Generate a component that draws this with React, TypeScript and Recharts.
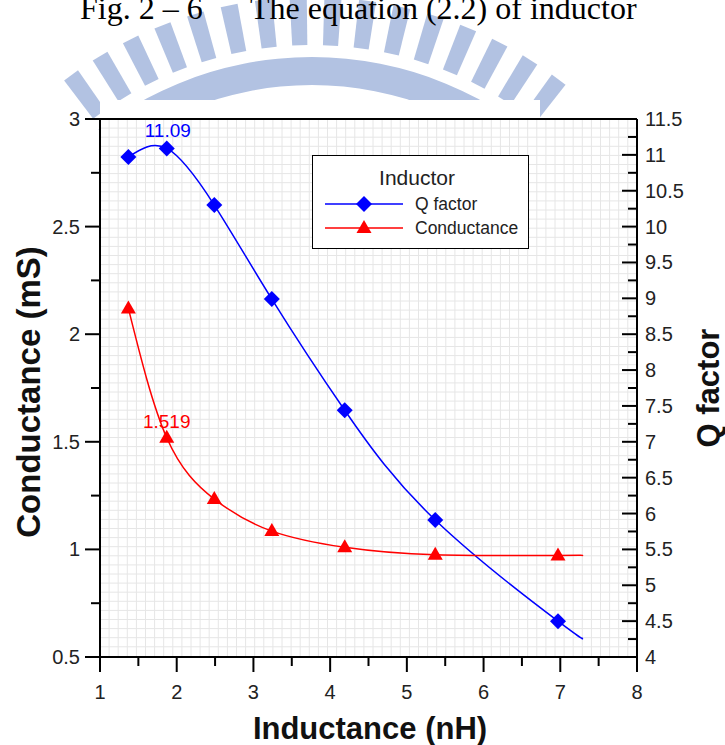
import React from "react";
import { LineChart, Line, XAxis, YAxis, CartesianGrid, Legend, ReferenceLine } from "recharts";

// measured points
const inductance = [1.37, 1.87, 2.49, 3.24, 4.19, 5.37, 6.97];
const qFactor = [10.97, 11.09, 10.3, 8.99, 7.44, 5.91, 4.5];
const conductance = [2.12, 1.519, 1.234, 1.085, 1.01, 0.975, 0.972];
// the fitted curves run a bit past the last point (no marker there)
const curveEnd = { L: 7.28, q: 4.27, g: 0.972 };

const xTicks = [1, 1.5, 2, 2.5, 3, 3.5, 4, 4.5, 5, 5.5, 6, 6.5, 7, 7.5, 8];
const leftTicks = [0.5, 0.75, 1, 1.25, 1.5, 1.75, 2, 2.25, 2.5, 2.75, 3];
const rightTicks = [4, 4.25, 4.5, 4.75, 5, 5.25, 5.5, 5.75, 6, 6.25, 6.5, 6.75, 7, 7.25, 7.5, 7.75, 8, 8.25, 8.5, 8.75, 9, 9.25, 9.5, 9.75, 10, 10.25, 10.5, 10.75, 11, 11.25, 11.5];

const data = [
  ...inductance.map((L, i) => ({ L, q: qFactor[i], g: conductance[i], marker: true })),
  { ...curveEnd, marker: false },
];

const BLUE = "#0000ff";
const RED = "#ff0000";
const FONT = "'Liberation Sans', Arial, sans-serif";
const SERIF = "'Liberation Serif', 'Times New Roman', serif";
const GRID_STEP = 9.1;
const WM = "#b2c2e2";

const isHalf = (v: number) => Math.abs(v * 2 - Math.round(v * 2)) < 1e-6;

const XTick = ({ x, y, payload }: any) => {
  const major = Number.isInteger(payload.value);
  return (
    <g>
      <line x1={x} x2={x} y1={y} y2={y + (major ? 15 : 9)} stroke="#000" strokeWidth={2} />
      {major && (
        <text x={x} y={y + 42} textAnchor="middle" fontFamily={FONT} fontSize={20} fill="#222">
          {payload.value}
        </text>
      )}
    </g>
  );
};

const LeftTick = ({ x, y, payload }: any) => {
  const major = isHalf(payload.value);
  return (
    <g>
      <line x1={x} x2={x - (major ? 15 : 9)} y1={y} y2={y} stroke="#000" strokeWidth={2} />
      {major && (
        <text x={x - 20} y={y + 7} textAnchor="end" fontFamily={FONT} fontSize={20} fill="#222">
          {payload.value}
        </text>
      )}
    </g>
  );
};

// right axis ticks point into the plot
const RightTick = ({ x, y, payload }: any) => {
  const major = isHalf(payload.value);
  return (
    <g>
      <line x1={x} x2={x - (major ? 15 : 9)} y1={y} y2={y} stroke="#000" strokeWidth={2} />
      {major && (
        <text x={x + 8} y={y + 7} textAnchor="start" fontFamily={FONT} fontSize={20} fill="#222">
          {payload.value}
        </text>
      )}
    </g>
  );
};

const Diamond = (p: any) => {
  const { cx, cy, payload, index } = p;
  if (!payload.marker) return <g key={`qd-${index}`} />;
  const s = 8;
  return (
    <path key={`qd-${index}`} d={`M${cx},${cy - s} L${cx + s},${cy} L${cx},${cy + s} L${cx - s},${cy} Z`} fill={BLUE} />
  );
};

const Triangle = (p: any) => {
  const { cx, cy, payload, index } = p;
  if (!payload.marker) return <g key={`gt-${index}`} />;
  return (
    <path key={`gt-${index}`} d={`M${cx},${cy - 8} L${cx + 7.5},${cy + 5} L${cx - 7.5},${cy + 5} Z`} fill={RED} />
  );
};

const PeakLabel = (color: string, dx: number, dy: number) => (p: any) => {
  if (p.index !== 1) return <g key={`lb-${p.index}`} />;
  return (
    <text key={`lb-${p.index}`} x={p.x + dx} y={p.y + dy} textAnchor="middle" fontFamily={FONT} fontSize={19} fill={color}>
      {p.value}
    </text>
  );
};

const LegendBox = () => (
  <div
    style={{
      width: 217,
      height: 94,
      boxSizing: "border-box",
      border: "1.5px solid #000",
      background: "#fff",
      fontFamily: FONT,
    }}
  >
    <svg width={214} height={91} style={{ display: "block" }}>
      <text x={104} y={29} textAnchor="middle" fontSize={21} fill="#222">Inductor</text>
      <line x1={12} x2={90} y1={48} y2={48} stroke={BLUE} strokeWidth={1.5} />
      <path d="M51,40 L59,48 L51,56 L43,48 Z" fill={BLUE} />
      <text x={102} y={54} fontSize={17.5} fill="#222">Q factor</text>
      <line x1={12} x2={90} y1={72} y2={72} stroke={RED} strokeWidth={1.5} />
      <path d="M51,64 L58.5,77 L43.5,77 Z" fill={RED} />
      <text x={102} y={78} fontSize={17.5} fill="#222">Conductance</text>
    </svg>
  </div>
);

const Watermark = () => {
  const cx = 312;
  const cy = 407;
  const rays = [];
  const n = 16;
  const pt = (r: number, t: number) => `${cx + r * Math.cos(t)},${cy + r * Math.sin(t)}`;
  for (let i = 0; i < n; i++) {
    const a = ((-126 + (73 * i) / (n - 1)) * Math.PI) / 180;
    const w = (1.2 * Math.PI) / 180;
    rays.push(
      <polygon key={i} points={`${pt(362, a - w)} ${pt(410, a - w)} ${pt(410, a + w)} ${pt(362, a + w)}`} fill={WM} />
    );
  }
  const R1 = 350;
  const R2 = 322;
  return (
    <svg width={725} height={745} style={{ position: "absolute", left: 0, top: 0 }}>
      <defs>
        <clipPath id="wm">
          <rect x={0} y={0} width={725} height={100} />
          <rect x={0} y={0} width={100} height={130} />
          <rect x={540} y={0} width={185} height={118} />
        </clipPath>
      </defs>
      <g clipPath="url(#wm)">
        {rays}
        <path
          d={`M${cx - R1},${cy} A${R1},${R1} 0 0 1 ${cx + R1},${cy} L${cx + R2},${cy} A${R2},${R2} 0 0 0 ${cx - R2},${cy} Z`}
          fill={WM}
        />
      </g>
      <text x={80} y={19} fontFamily={SERIF} fontSize={32} fill="#000">
        Fig. 2 – 6
      </text>
      <text x={250} y={19} fontFamily={SERIF} fontSize={32} fill="#000">
        The equation (2.2) of inductor
      </text>
    </svg>
  );
};

export default function App() {
  return (
    <div style={{ position: "absolute", left: 0, top: 0, width: 725, height: 745, background: "#fff", overflow: "hidden" }}>
      <Watermark />
      <div style={{ position: "absolute", left: 0, top: 0 }}>
        <LineChart width={725} height={745} data={data} margin={{ top: 119, right: 0, bottom: 0, left: 0 }}>
          <CartesianGrid
            stroke="#e6e6e6"
            strokeWidth={1}
            verticalCoordinatesGenerator={({ offset }: any) => {
              const xs: number[] = [];
              for (let x = offset.left + GRID_STEP; x < offset.left + offset.width - 2; x += GRID_STEP) xs.push(x);
              return xs;
            }}
            horizontalCoordinatesGenerator={({ offset }: any) => {
              const ys: number[] = [];
              for (let y = offset.top + GRID_STEP; y < offset.top + offset.height - 2; y += GRID_STEP) ys.push(y);
              return ys;
            }}
          />
          <XAxis
            dataKey="L"
            type="number"
            domain={[1, 8]}
            ticks={xTicks}
            interval={0}
            height={88}
            tickSize={0}
            tickMargin={0}
            tick={<XTick />}
            axisLine={{ stroke: "#000", strokeWidth: 2 }}
            tickLine={false}
            label={{
              content: () => (
                <text x={370} y={739} textAnchor="middle" fontFamily={FONT} fontSize={31} fontWeight="bold" fill="#111">
                  Inductance (nH)
                </text>
              ),
            }}
          />
          <YAxis
            yAxisId="left"
            type="number"
            domain={[0.5, 3]}
            ticks={leftTicks}
            interval={0}
            width={100}
            tickSize={0}
            tickMargin={0}
            tick={<LeftTick />}
            axisLine={{ stroke: "#000", strokeWidth: 2 }}
            tickLine={false}
            label={{
              content: () => (
                <text
                  x={40}
                  y={392}
                  transform="rotate(-90 40 392)"
                  textAnchor="middle"
                  fontFamily={FONT}
                  fontSize={33}
                  fontWeight="bold"
                  fill="#111"
                >
                  Conductance (mS)
                </text>
              ),
            }}
          />
          <YAxis
            yAxisId="right"
            orientation="right"
            type="number"
            domain={[4, 11.5]}
            ticks={rightTicks}
            interval={0}
            width={88}
            tickSize={0}
            tickMargin={0}
            tick={<RightTick />}
            axisLine={{ stroke: "#000", strokeWidth: 2 }}
            tickLine={false}
            label={{
              content: () => (
                <text
                  x={719}
                  y={388}
                  transform="rotate(-90 719 388)"
                  textAnchor="middle"
                  fontFamily={FONT}
                  fontSize={31}
                  fontWeight="bold"
                  fill="#111"
                >
                  Q factor
                </text>
              ),
            }}
          />
          <ReferenceLine yAxisId="left" y={3} stroke="#000" strokeWidth={2} />
          <Legend
            layout="horizontal"
            verticalAlign="middle"
            align="center"
            content={() => <LegendBox />}
            wrapperStyle={{ left: 312, top: 155, width: 217, height: 94 }}
          />
          <Line
            yAxisId="right"
            dataKey="q"
            type="natural"
            stroke={BLUE}
            strokeWidth={1.5}
            dot={Diamond}
            activeDot={false}
            label={PeakLabel(BLUE, 1, -11)}
            isAnimationActive={false}
          />
          <Line
            yAxisId="left"
            dataKey="g"
            type="natural"
            stroke={RED}
            strokeWidth={1.5}
            dot={Triangle}
            activeDot={false}
            label={PeakLabel(RED, 0, -10)}
            isAnimationActive={false}
          />
        </LineChart>
      </div>
    </div>
  );
}
